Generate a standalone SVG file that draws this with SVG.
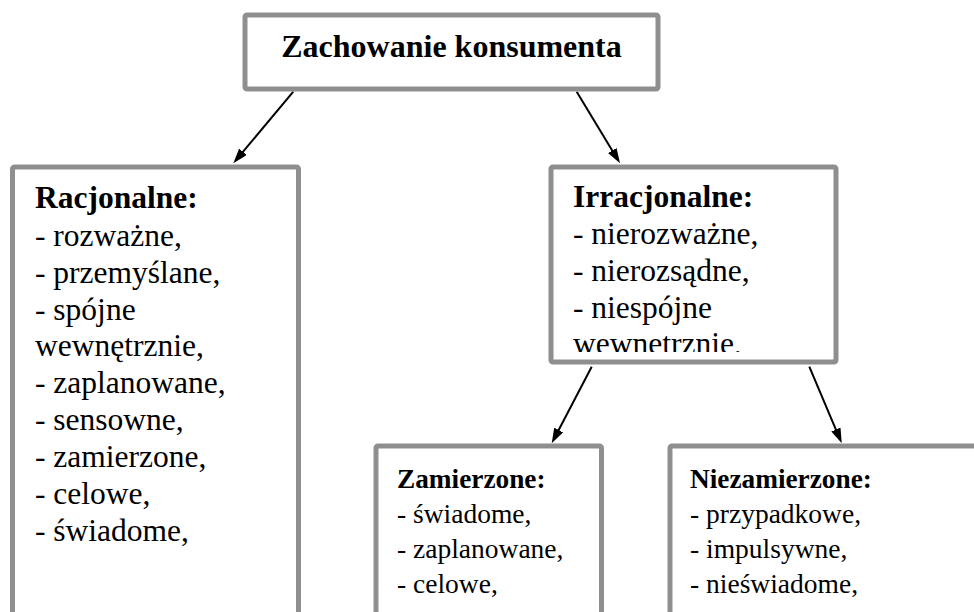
<svg xmlns="http://www.w3.org/2000/svg" width="974" height="612" viewBox="0 0 974 612">
  <style>
    .box { fill: #ffffff; stroke: #8f8f8f; stroke-width: 5; }
    .title { font-family: "Liberation Serif", "DejaVu Serif", serif; font-weight: bold; font-size: 32px; fill: #000; }
    .head { font-family: "Liberation Serif", "DejaVu Serif", serif; font-weight: bold; font-size: 31.5px; fill: #000; }
    .line { font-family: "Liberation Serif", "DejaVu Serif", serif; font-weight: normal; font-size: 31.5px; fill: #000; }
    .head-s { font-family: "Liberation Serif", "DejaVu Serif", serif; font-weight: bold; font-size: 27.3px; fill: #000; }
    .line-s { font-family: "Liberation Serif", "DejaVu Serif", serif; font-weight: normal; font-size: 27.5px; fill: #000; }
    .link { fill: none; stroke: #000; stroke-width: 2; marker-end: url(#arrow); }
  </style>
  <defs>
    <marker id="arrow" viewBox="0 0 15 10" refX="9" refY="5" markerWidth="15" markerHeight="10" markerUnits="userSpaceOnUse" orient="auto">
      <path d="M0,0 L15,5 L0,10 Z" fill="#000"/>
    </marker>
    <!-- the last line of the Irracjonalne box is cut off by the box edge -->
    <clipPath id="irr-clip">
      <rect x="552" y="168" width="282" height="184"/>
    </clipPath>
  </defs>

  <rect x="0" y="0" width="974" height="612" fill="#ffffff"/>

  <g id="connectors">
    <path class="link" d="M293.3,91.7 L237.2,158.7"/>
    <path class="link" d="M576.7,91.7 L616.9,158.2"/>
    <path class="link" d="M591.7,366.7 L554.5,438"/>
    <path class="link" d="M809.3,366.7 L839.4,437.8"/>
  </g>

  <g id="node-root">
    <rect class="box" x="245" y="15" width="413" height="74" rx="2"/>
    <text class="title" x="451.5" y="57" text-anchor="middle">Zachowanie konsumenta</text>
  </g>

  <g id="node-racjonalne">
    <rect class="box" x="12.5" y="167" width="286" height="470" rx="2"/>
    <text class="head" x="35" y="208">Racjonalne:</text>
    <text class="line" x="35" y="245.5">- rozważne,</text>
    <text class="line" x="35" y="283">- przemyślane,</text>
    <text class="line" x="35" y="319.5">- spójne</text>
    <text class="line" x="35" y="356">wewnętrznie,</text>
    <text class="line" x="35" y="392.5">- zaplanowane,</text>
    <text class="line" x="35" y="429.5">- sensowne,</text>
    <text class="line" x="35" y="466.5">- zamierzone,</text>
    <text class="line" x="35" y="504">- celowe,</text>
    <text class="line" x="35" y="541">- świadome,</text>
  </g>

  <g id="node-irracjonalne">
    <rect class="box" x="551" y="167" width="285" height="195" rx="2"/>
    <g clip-path="url(#irr-clip)">
      <text class="head" x="573" y="207">Irracjonalne:</text>
      <text class="line" x="573" y="244">- nierozważne,</text>
      <text class="line" x="573" y="281">- nierozsądne,</text>
      <text class="line" x="573" y="317.5">- niespójne</text>
      <text class="line" x="573" y="354">wewnętrznie,</text>
    </g>
  </g>

  <g id="node-zamierzone">
    <rect class="box" x="376" y="446" width="225.5" height="200" rx="2"/>
    <text class="head-s" x="397" y="488">Zamierzone:</text>
    <text class="line-s" x="397" y="523">- świadome,</text>
    <text class="line-s" x="397" y="557.5">- zaplanowane,</text>
    <text class="line-s" x="397" y="593">- celowe,</text>
  </g>

  <g id="node-niezamierzone">
    <rect class="box" x="670" y="446" width="340" height="200" rx="2"/>
    <text class="head-s" x="690" y="488">Niezamierzone:</text>
    <text class="line-s" x="690" y="523">- przypadkowe,</text>
    <text class="line-s" x="690" y="557.5">- impulsywne,</text>
    <text class="line-s" x="690" y="593">- nieświadome,</text>
  </g>
</svg>
